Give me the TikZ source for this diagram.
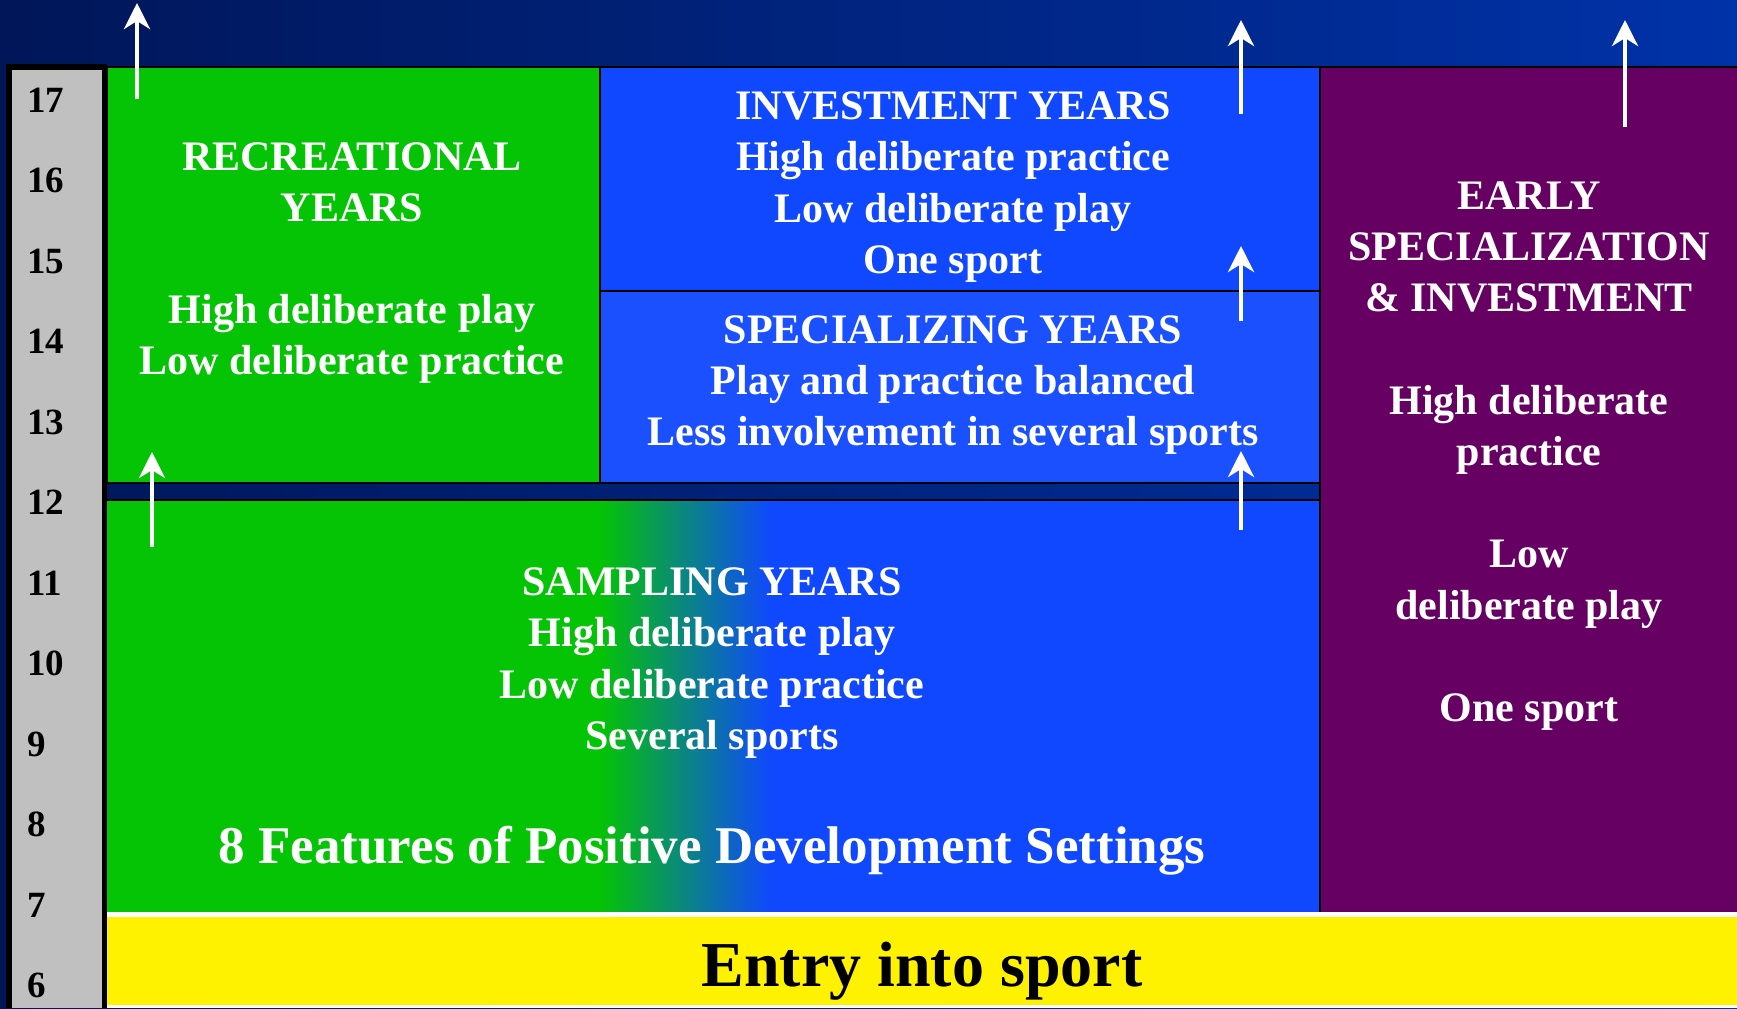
\documentclass[tikz,border=0pt]{standalone}
\usepackage{fontspec}
\setmainfont{Liberation Serif}
\usetikzlibrary{arrows.meta}
\definecolor{navyL}{RGB}{0,22,88}
\definecolor{navyR}{RGB}{0,50,168}
\definecolor{sportgreen}{RGB}{5,195,5}
\definecolor{sportblue}{RGB}{16,72,255}
\definecolor{specblue}{RGB}{26,80,255}
\definecolor{earlypurple}{RGB}{102,0,98}
\definecolor{axisgray}{RGB}{192,192,192}
\tikzset{
  txt/.style={text=white, font=\fontsize{21}{25.6}\selectfont\bfseries, align=center, inner sep=0pt},
  age/.style={font=\fontsize{18.5}{20}\selectfont\bfseries, anchor=west, inner sep=0pt},
  up/.style={white, line width=2.3pt, -{Stealth[length=13pt,width=13pt,inset=4pt]}},
  edge/.style={draw=black, line width=0.8pt}
}
\begin{document}
\begin{tikzpicture}[x=0.5pt,y=-0.5pt]
		\useasboundingbox (0,0) rectangle (1737,1008);
		\shade[left color=navyL,right color=navyR] (0,0) rectangle (1737,1008);
		% age scale
		\fill[black] (6,64) rectangle (107,1008);
		\fill[axisgray] (12,70) rectangle (102,1008);
		\foreach \a [count=\i from 0] in {17,16,...,6}
			\node[age] (age\a) at (27,{100+80.5*\i}) {\a};
		% the four stages
		\fill[sportgreen] (107,67) rectangle (600,483);
		\fill[sportblue] (600,67) rectangle (1320,291);
		\fill[specblue] (600,291) rectangle (1320,483);
		\fill[earlypurple] (1320,67) rectangle (1737,912);
		\fill[sportgreen] (107,500) rectangle (601,912);
		\shade[left color=sportgreen,right color=sportblue] (600,500) rectangle (771,912);
		\fill[sportblue] (770,500) rectangle (1320,912);
		\draw[edge] (107,67) rectangle (600,483);
		\draw[edge] (600,67) rectangle (1320,291);
		\draw[edge] (600,291) rectangle (1320,483);
		\draw[edge] (1320,912) -- (1320,67) -- (1737,67);
		\draw[edge] (107,500) -- (1320,500);
		% entry into sport
		\fill[white] (107,912) rectangle (1737,1008);
		\fill[yellow] (107,917) rectangle (1737,1005);
		% texts
		\node[txt] (rec) at (352,263) {RECREATIONAL\\YEARS\\[25.6pt]High deliberate play\\Low deliberate practice};
		\node[txt] (inv) at (953,187) {INVESTMENT YEARS\\High deliberate practice\\Low deliberate play\\One sport};
		\node[txt] (spec) at (953,385) {SPECIALIZING YEARS\\Play and practice balanced\\Less involvement in several sports};
		\node[txt] (samp) at (712,663) {SAMPLING YEARS\\High deliberate play\\Low deliberate practice\\Several sports};
		\node[txt,font=\fontsize{26.5}{30}\selectfont\bfseries] (feat) at (712,851) {8 Features of Positive Development Settings};
		\node[txt] (early) at (1529,456) {EARLY\\SPECIALIZATION\\\& INVESTMENT\\[25.6pt]High deliberate\\practice\\[25.6pt]Low\\deliberate play\\[25.6pt]One sport};
		\node[txt,text=black,font=\fontsize{32}{36}\selectfont\bfseries] (entry) at (922,971) {Entry into sport};
		% arrows
		\coordinate (r0) at (137,99);   \coordinate (r1) at (137,3);
		\coordinate (s0) at (152,547);  \coordinate (s1) at (152,452);
		\coordinate (i0) at (1241,114); \coordinate (i1) at (1241,20);
		\coordinate (p0) at (1241,321); \coordinate (p1) at (1241,246);
		\coordinate (m0) at (1241,530); \coordinate (m1) at (1241,451);
		\coordinate (e0) at (1625,127); \coordinate (e1) at (1625,20);
		\foreach \n in {r,s,i,p,m,e}
			\draw[up] (\n0) -- (\n1);
\end{tikzpicture}
\end{document}
